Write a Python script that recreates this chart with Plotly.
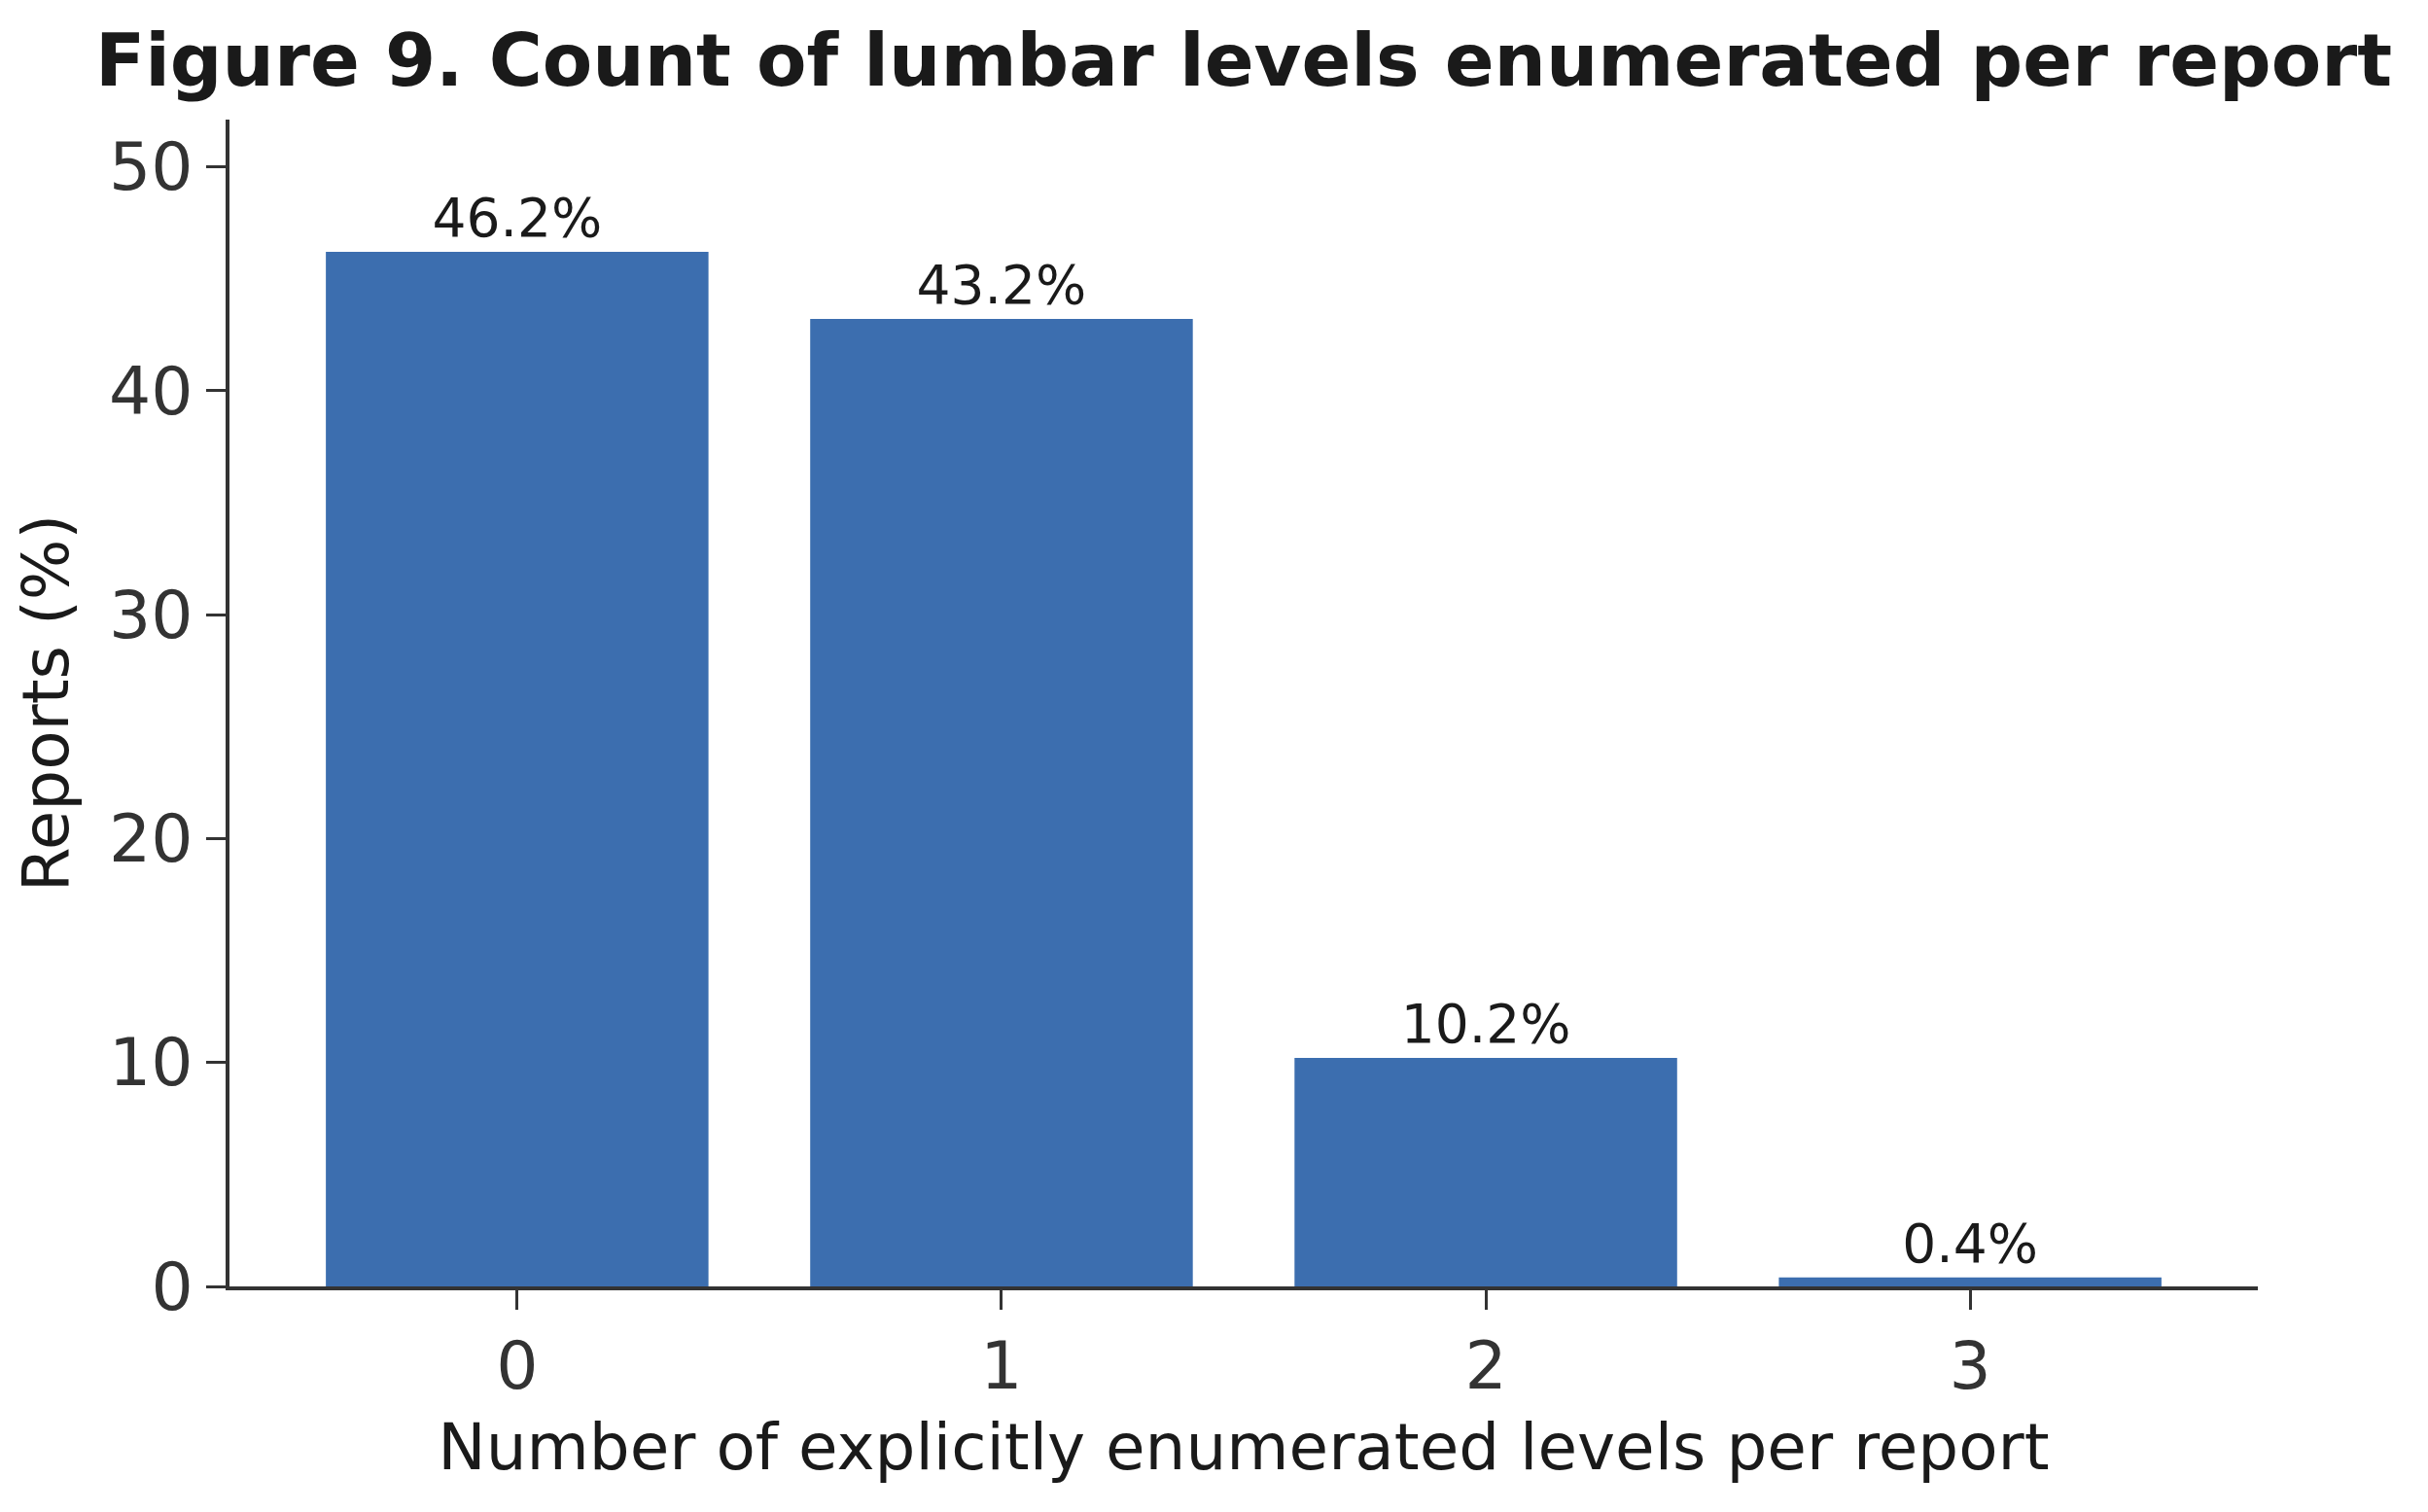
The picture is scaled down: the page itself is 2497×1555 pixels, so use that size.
import plotly.graph_objects as go

categories = [0, 1, 2, 3]
percent_values = [46.2, 43.2, 10.2, 0.4]
bar_labels = ["46.2%", "43.2%", "10.2%", "0.4%"]
y_ticks = [0, 10, 20, 30, 40, 50]

W, H = 2497, 1555
L, R, T, B = 236, 175, 123, 232

fig = go.Figure()
fig.add_trace(go.Bar(
    x=categories, y=percent_values, width=0.79,
    marker=dict(color="#3c6eaf", line=dict(width=0)),
    text=bar_labels, textposition="outside", cliponaxis=False,
    textfont=dict(family="DejaVu Sans", size=55, color="#1a1a1a"),
))

fig.update_layout(
    width=W, height=H,
    margin=dict(l=L, r=R, t=T, b=B, autoexpand=False),
    paper_bgcolor="white", plot_bgcolor="white",
    showlegend=False,
    font=dict(family="DejaVu Sans", color="#333333"),
    title=dict(
        text="<b>Figure 9. Count of lumbar levels enumerated per report</b>",
        font=dict(family="DejaVu Sans", size=75, color="#1a1a1a"),
        x=0.5, xref="paper", xanchor="center",
        y=1 - 62 / H, yref="container", yanchor="middle",
    ),
    xaxis=dict(
        range=[-0.594, 3.594], tickvals=categories, ticktext=[str(c) for c in categories],
        showline=True, linecolor="#333333", linewidth=3.5,
        ticks="outside", ticklen=20, tickwidth=3, tickcolor="#333333",
        tickfont=dict(size=68, color="#333333"),
        showgrid=False, zeroline=False,
        title=dict(text="Number of explicitly enumerated levels per report",
                   font=dict(size=66, color="#1a1a1a"), standoff=22),
        automargin=False,
    ),
    yaxis=dict(
        range=[0, 52.1], tickvals=y_ticks,
        showline=True, linecolor="#333333", linewidth=3.5,
        ticks="outside", ticklen=20, tickwidth=3, tickcolor="#333333",
        tickfont=dict(size=68, color="#333333"),
        showgrid=False, zeroline=False,
        title=dict(text="Reports (%)", font=dict(size=66, color="#1a1a1a"), standoff=21),
        automargin=False,
    ),
)

fig.write_html("out.html")
